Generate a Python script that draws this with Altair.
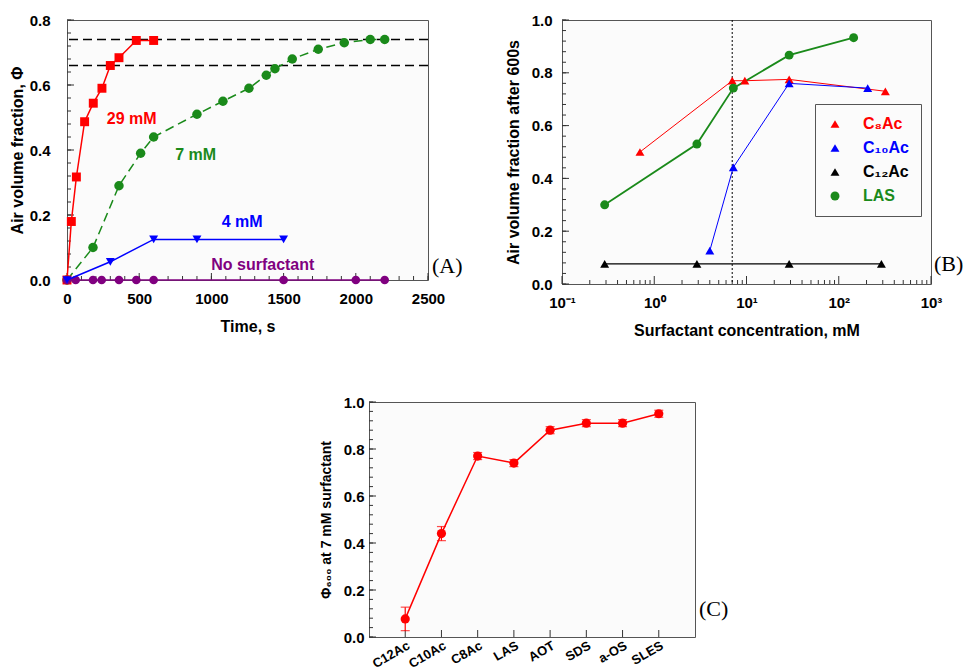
import altair as alt
import pandas as pd

# ---------------- Panel A data: air volume fraction vs time ----------------
t_29 = [0, 30, 65, 122, 182, 242, 300, 360, 480, 600]
phi_29 = [0.0, 0.18, 0.317, 0.487, 0.544, 0.59, 0.66, 0.684, 0.737, 0.737]
t_7 = [0, 180, 360, 510, 600, 900, 1080, 1260, 1380, 1440, 1560, 1740, 1920, 2100, 2200]
phi_7 = [0.0, 0.10, 0.29, 0.39, 0.44, 0.51, 0.55, 0.59, 0.63, 0.65, 0.68, 0.71, 0.73, 0.74, 0.74]
t_4 = [0, 300, 600, 900, 1500]
phi_4 = [0.0, 0.056, 0.125, 0.125, 0.125]
t_0 = [0, 60, 180, 240, 360, 480, 600, 1500, 2000, 2200]
phi_0 = [0.0, 0.0, 0.0, 0.0, 0.0, 0.0, 0.0, 0.0, 0.0, 0.0]
plateau_levels = [0.74, 0.66]
ann_labels = ["29 mM", "7 mM", "4 mM", "No surfactant"]
ann_t = [448, 891, 1213, 1356]
ann_phi = [0.494, 0.385, 0.178, 0.046]
ann_colors = ["#ff0000", "#1a8a1a", "#0000ff", "#800080"]

# ---------------- Panel B data: fraction after 600 s vs concentration ----------------
series_B = ["C₈Ac", "C₁₀Ac", "C₁₂Ac", "LAS"]
c8_conc = [0.7, 7.0, 9.6, 29, 320]
c8_phi = [0.50, 0.77, 0.77, 0.775, 0.73]
c10_conc = [4.0, 7.2, 29, 206]
c10_phi = [0.126, 0.442, 0.76, 0.742]
c12_conc = [0.29, 2.9, 29, 290]
c12_phi = [0.076, 0.076, 0.076, 0.076]
las_conc = [0.29, 2.9, 7.2, 29, 145]
las_phi = [0.30, 0.53, 0.742, 0.867, 0.933]
ref_conc = [7]

# ---------------- Panel C data: phi600 at 7 mM ----------------
surfactants = ["C12Ac", "C10Ac", "C8Ac", "LAS", "AOT", "SDS", "a-OS", "SLES"]
phi600 = [0.077, 0.44, 0.77, 0.74, 0.88, 0.91, 0.91, 0.95]
phi600_err = [0.05, 0.03, 0.015, 0.015, 0.015, 0.015, 0.015, 0.015]

FONT = "Liberation Sans"
SERIF = "Liberation Serif"
TICKC = "#333333"


def panel_label(text, x, y):
    return alt.Chart(pd.DataFrame({"s": [text]})).mark_text(
        font=SERIF, fontSize=22, align="left", baseline="middle", color="black").encode(
        text="s:N", x=alt.value(x), y=alt.value(y))


def make_panel_helpers(xscale, yscale, xaxis, yaxis, xtype="Q"):
    def X(field):
        return alt.X(f"{field}:{xtype}", scale=xscale, axis=xaxis)

    def Y(field):
        return alt.Y(f"{field}:Q", scale=yscale, axis=yaxis)

    def xticks(values, length, H):
        return alt.Chart(pd.DataFrame({"v": values})).mark_rule(color=TICKC, strokeWidth=1).encode(
            x=X("v"), y=alt.value(H), y2=alt.value(H - length))

    def yticks(values, length):
        return alt.Chart(pd.DataFrame({"v": values})).mark_rule(color=TICKC, strokeWidth=1).encode(
            y=Y("v"), x=alt.value(0), x2=alt.value(length))

    return X, Y, xticks, yticks


# ================= Panel A =================
WA, HA = 361, 260
xA = alt.Scale(domain=[0, 2500], nice=False, zero=False)
yA = alt.Scale(domain=[0, 0.8], nice=False)
axA_x = alt.Axis(values=[0, 500, 1000, 1500, 2000, 2500], format="d", ticks=False, domain=False,
                 grid=False, labelPadding=11, labelFlush=False, labelOverlap=False,
                 title="Time, s", titlePadding=12)
axA_y = alt.Axis(values=[0, 0.2, 0.4, 0.6, 0.8], format=".1f", ticks=False, domain=False,
                 grid=False, labelPadding=17, labelFlush=False, labelOverlap=False,
                 title="Air volume fraction, Φ", titlePadding=4)
XA, YA, xticksA, yticksA = make_panel_helpers(xA, yA, axA_x, axA_y)


def a_series(t, p, color, shape, size, dash=None, width=1.5):
    df = pd.DataFrame({"t": t, "phi": p})
    base = alt.Chart(df).encode(x=XA("t"), y=YA("phi"))
    kw = dict(color=color, strokeWidth=width)
    if dash:
        kw["strokeDash"] = dash
    return base.mark_line(**kw) + base.mark_point(shape=shape, filled=True, size=size,
                                                  color=color, opacity=1)


plateaus = alt.Chart(pd.DataFrame({"level": plateau_levels})).mark_rule(
    color="black", strokeDash=[9, 5], strokeWidth=1.4).encode(y=YA("level"))

annA = alt.Chart(pd.DataFrame({"label": ann_labels, "t": ann_t, "phi": ann_phi,
                               "c": ann_colors})).mark_text(
    font=FONT, fontWeight="bold", fontSize=16, align="center", baseline="middle").encode(
    x=XA("t"), y=YA("phi"), text="label:N", color=alt.Color("c:N", scale=None))

panelA = alt.layer(
    xticksA(list(range(0, 2501, 100)), 4, HA),
    yticksA([round(0.04 * i, 2) for i in range(21)], 4),
    xticksA([0, 500, 1000, 1500, 2000, 2500], 7, HA),
    yticksA([0, 0.2, 0.4, 0.6, 0.8], 7),
    plateaus,
    a_series(t_7, phi_7, "#1a8a1a", "circle", 90, dash=[9, 5]),
    a_series(t_29, phi_29, "#ff0000", "square", 80),
    a_series(t_0, phi_0, "#800080", "circle", 75),
    a_series(t_4, phi_4, "#0000ff", "triangle-down", 80),
    annA,
    panel_label("(A)", WA + 4, 246),
).properties(width=WA, height=HA)

# ================= Panel B =================
WB, HB = 369, 264
xB = alt.Scale(type="log", domain=[0.1, 1000], nice=False)
yB = alt.Scale(domain=[0, 1], nice=False)
axB_x = alt.Axis(
    values=[0.1, 1, 10, 100, 1000], ticks=False, domain=False, grid=False,
    labelPadding=11, labelFlush=False, labelOverlap=False,
    labelExpr="datum.value < 0.5 ? '10⁻¹' : datum.value < 5 ? '10⁰' : datum.value < 50 ? '10¹' : datum.value < 500 ? '10²' : '10³'",
    title="Surfactant concentration, mM", titlePadding=12)
axB_y = alt.Axis(
    values=[0, 0.2, 0.4, 0.6, 0.8, 1.0], format=".1f", ticks=False, domain=False, grid=False,
    labelPadding=10, labelFlush=False, labelOverlap=False,
    title="Air volume fraction after 600s", titlePadding=10)
XB, YB, xticksB, yticksB = make_panel_helpers(xB, yB, axB_x, axB_y)

rowsB = []
for name, cs, ps in zip(series_B, [c8_conc, c10_conc, c12_conc, las_conc],
                        [c8_phi, c10_phi, c12_phi, las_phi]):
    for c, p in zip(cs, ps):
        rowsB.append({"series": name, "conc": c, "phi": p})
dfB = pd.DataFrame(rowsB)

colorsB = ["#ff0000", "#0000ff", "#000000", "#1a8a1a"]
widthsB = [1, 1, 1.2, 1.8]
colorB = alt.Scale(domain=series_B, range=colorsB)
shapeB = alt.Scale(domain=series_B, range=["triangle-up", "triangle-up", "triangle-up", "circle"])
legendB = alt.Legend(
    orient="none", legendX=748, legendY=84, title=None, strokeColor="#555555",
    fillColor="#fbfbfb", padding=12, rowPadding=8, labelFont=FONT, labelFontWeight="bold",
    labelFontSize=16, symbolSize=90, labelOffset=20,
    labelColor=alt.ExprRef(expr="datum.value == 'C₈Ac' ? '#ff0000' : datum.value == 'C₁₀Ac' ? '#0000ff' : datum.value == 'LAS' ? '#1a8a1a' : '#000000'"))

linesB = [
    alt.Chart(dfB[dfB["series"] == name]).mark_line(color=col, strokeWidth=w).encode(
        x=XB("conc"), y=YB("phi"))
    for name, col, w in zip(series_B, colorsB, widthsB)
]
pointsB = alt.Chart(dfB).mark_point(filled=True, opacity=1).encode(
    x=XB("conc"), y=YB("phi"),
    color=alt.Color("series:N", scale=colorB, legend=legendB),
    shape=alt.Shape("series:N", scale=shapeB, legend=legendB),
    size=alt.Size("series:N", scale=alt.Scale(domain=series_B, range=[80, 80, 80, 115]), legend=None))

refB = alt.Chart(pd.DataFrame({"c": ref_conc})).mark_rule(
    color="black", strokeDash=[2, 2], strokeWidth=1).encode(x=XB("c"))

minorB = [k * 10.0 ** e for e in [-1, 0, 1, 2] for k in range(2, 10)]
panelB = alt.layer(
    xticksB(minorB, 4, HB),
    yticksB([round(0.04 * i, 2) for i in range(26)], 4),
    xticksB([0.1, 1, 10, 100, 1000], 8, HB),
    yticksB([0, 0.2, 0.4, 0.6, 0.8, 1.0], 7),
    refB, *linesB, pointsB,
    panel_label("(B)", WB + 3, 244),
).properties(width=WB, height=HB)

# ================= Panel C =================
WC, HC = 326, 235
xC = alt.Scale(type="point", padding=1, domain=surfactants)
yC = alt.Scale(domain=[0, 1], nice=False)
axC_x = alt.Axis(title=None, labelAngle=-30, ticks=False, domain=False, grid=False,
                 labelPadding=2, labelFontSize=13, labelAlign="right", labelBaseline="top")
axC_y = alt.Axis(values=[0, 0.2, 0.4, 0.6, 0.8, 1.0], format=".1f", ticks=False, domain=False,
                 grid=False, labelPadding=5, labelFlush=False, labelOverlap=False,
                 title="Φ₆₀₀ at 7 mM surfactant", titleFontSize=14, titlePadding=10)
XC, YC, _unused, yticksC = make_panel_helpers(xC, yC, axC_x, axC_y, xtype="N")

dfC = pd.DataFrame({"surf": surfactants, "phi": phi600, "err": phi600_err})
dfC["lo"] = dfC["phi"] - dfC["err"]
dfC["hi"] = dfC["phi"] + dfC["err"]
baseC = alt.Chart(dfC)
lineC = baseC.mark_line(color="#ff0000", strokeWidth=1.5).encode(x=XC("surf"), y=YC("phi"))
errC = baseC.mark_rule(color="#ff0000", strokeWidth=1.2).encode(x=XC("surf"), y=YC("lo"), y2="hi:Q")
capLo = baseC.mark_tick(color="#ff0000", size=9, thickness=1.2).encode(x=XC("surf"), y=YC("lo"))
capHi = baseC.mark_tick(color="#ff0000", size=9, thickness=1.2).encode(x=XC("surf"), y=YC("hi"))
ptsC = baseC.mark_point(color="#ff0000", filled=True, opacity=1, size=85).encode(
    x=XC("surf"), y=YC("phi"))
ticksC_x = alt.Chart(pd.DataFrame({"surf": surfactants})).mark_rule(
    color=TICKC, strokeWidth=1).encode(x=XC("surf"), y=alt.value(HC), y2=alt.value(HC - 7))

panelC = alt.layer(
    yticksC([round(0.04 * i, 2) for i in range(26)], 4),
    yticksC([0, 0.2, 0.4, 0.6, 0.8, 1.0], 7),
    ticksC_x, lineC, errC, capLo, capHi, ptsC,
    panel_label("(C)", WC + 4, 207),
).properties(width=WC, height=HC)

spacer = alt.Chart(pd.DataFrame({"z": [0]})).mark_point(opacity=0).encode(
    x=alt.value(5), y=alt.value(0)).properties(
    width=251, height=1, view=alt.ViewBackground(strokeOpacity=0, fillOpacity=0))

top = alt.hconcat(panelA, panelB, spacing=40)
bottom = alt.hconcat(spacer, panelC, spacing=0)

chart = alt.vconcat(top, bottom, spacing=55).properties(
    padding={"left": 8, "top": 12, "right": 0, "bottom": 0}, background="white"
).configure_view(stroke="#555555", strokeWidth=1, fill="#fbfbfb").configure_axis(
    labelFont=FONT, labelFontWeight="bold", labelFontSize=15, labelColor="black",
    titleFont=FONT, titleFontWeight="bold", titleFontSize=16, titleColor="black"
).configure_point(strokeWidth=0)

chart.save("out.html", embed_options={"renderer": "svg", "actions": False})
